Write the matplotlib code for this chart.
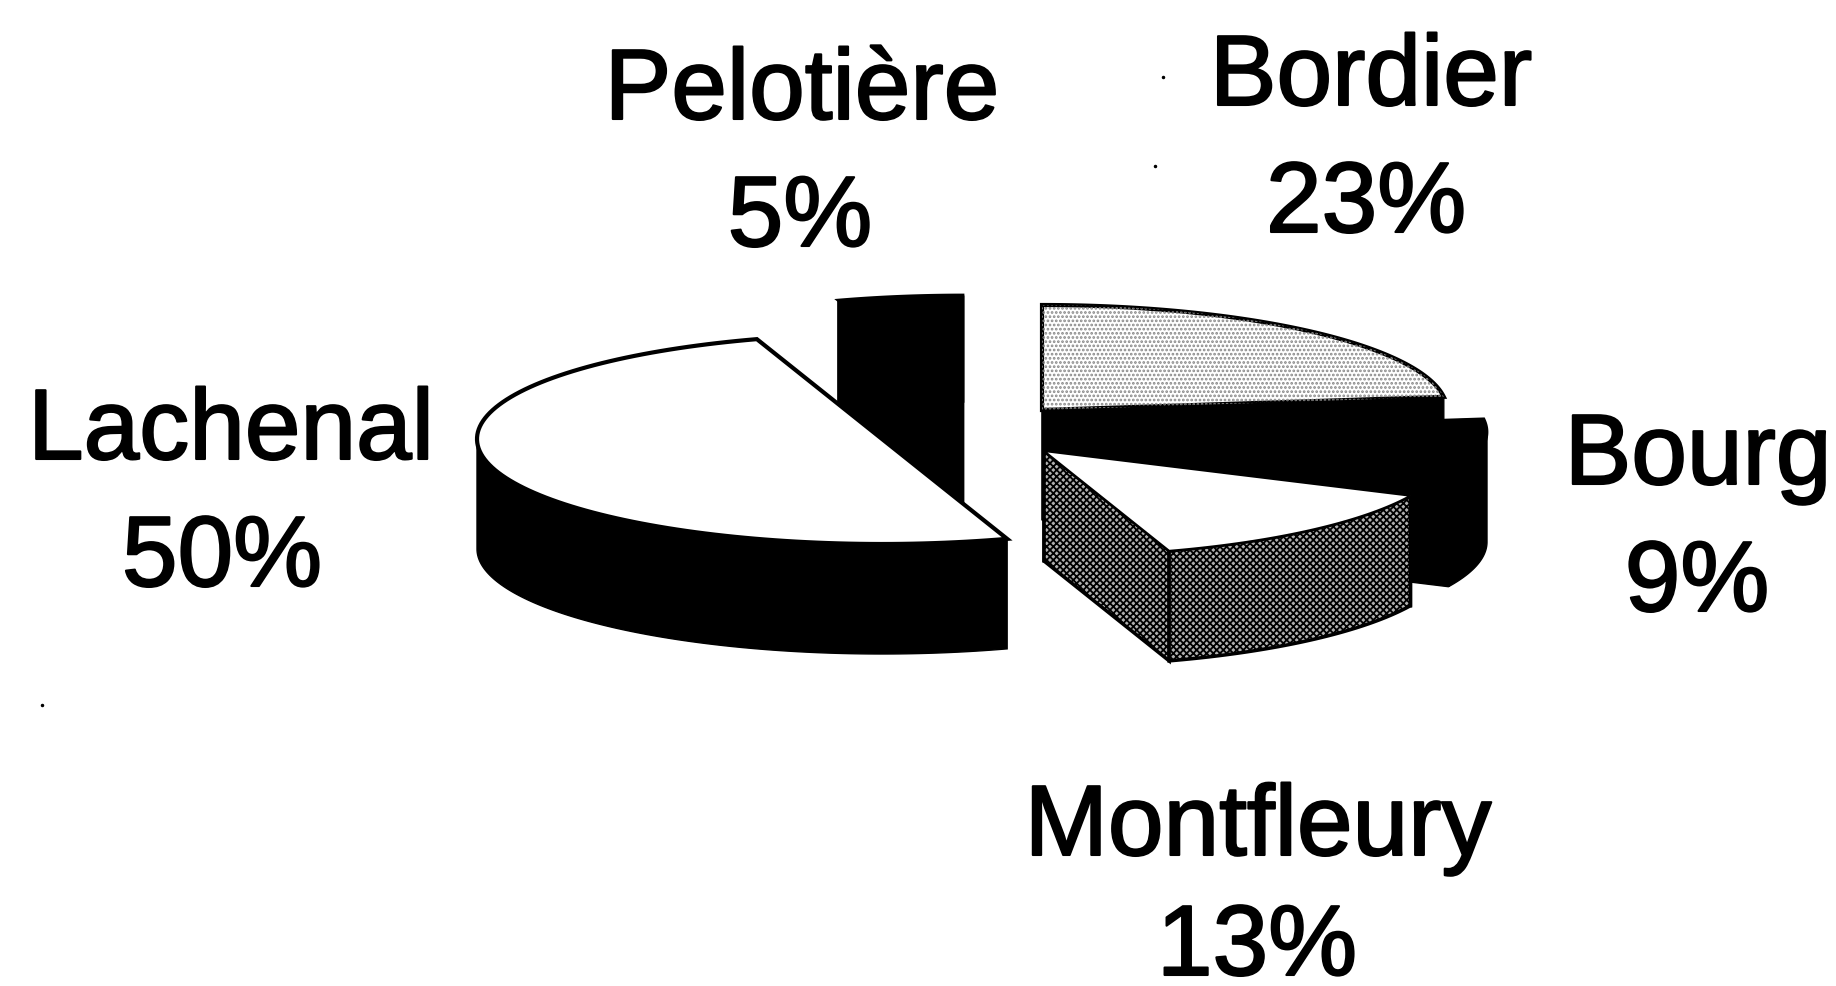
import numpy as np
import matplotlib
matplotlib.use("Agg")
import matplotlib.pyplot as plt
import matplotlib.patheffects as pe
from matplotlib.patches import Polygon

plt.rcParams['font.family'] = ['Liberation Sans', 'DejaVu Sans']
plt.rcParams['hatch.linewidth'] = 1.3

# Data, clockwise from twelve o'clock
labels = ["Bordier", "Bourg", "Montfleury", "Lachenal", "Pelotière"]
shares = [23, 9, 13, 50, 5]

# Layout
centres = {"Bordier": (1042, 410), "Bourg": (1082, 432), "Montfleury": (1044, 451),
           "Lachenal": (882, 439), "Pelotière": (963, 400)}
# name x, name baseline, share x, share baseline
label_pos = {"Bordier": (1371, 105, 1366, 232), "Bourg": (1698, 484, 1697, 611),
             "Montfleury": (1258, 855, 1257, 975), "Lachenal": (231, 459, 222, 586),
             "Pelotière": (802, 119, 800, 246)}
draw_order = ["Pelotière", "Bordier", "Bourg", "Lachenal", "Montfleury"]
RX, RY, DEPTH = 405, 105, 110
speck_x = [1163, 1155, 42]
speck_y = [77, 166, 705]

top_style = {
    "Bordier": dict(facecolor="white", edgecolor="black", linewidth=3),
    "Bourg": dict(facecolor="black", edgecolor="black", linewidth=2),
    "Montfleury": dict(facecolor="white", edgecolor="black", linewidth=1.5),
    "Lachenal": dict(facecolor="white", edgecolor="black", linewidth=3),
    "Pelotière": dict(facecolor="black", edgecolor="black", linewidth=2),
}
wall_style = {
    "Bordier": dict(facecolor="black", edgecolor="black"),
    "Bourg": dict(facecolor="black", edgecolor="black"),
    "Montfleury": dict(facecolor="#b0b0b0", edgecolor="black", hatch="xxxxx", linewidth=2.5),
    "Lachenal": dict(facecolor="black", edgecolor="black"),
    "Pelotière": dict(facecolor="black", edgecolor="black"),
}

fig = plt.figure(figsize=(18.36, 9.86), dpi=100, facecolor="white")
ax = fig.add_axes([0, 0, 1, 1])
ax.set_xlim(0, 1836)
ax.set_ylim(986, 0)
ax.axis("off")

edges = np.deg2rad(np.concatenate([[0], np.cumsum(shares)]) * 3.6)
spans = {n: (edges[i], edges[i + 1]) for i, n in enumerate(labels)}


def rim(name, t0, t1):
    cx, cy = centres[name]
    t = np.linspace(t0, t1, 120)
    return np.column_stack([cx + RX * np.sin(t), cy - RY * np.cos(t)])


for name in draw_order:
    t0, t1 = spans[name]
    cx, cy = centres[name]
    shift = np.array([0, DEPTH])
    apex = np.array([[cx, cy]])
    for t in (t0, t1):
        p = rim(name, t, t)[0]
        quad = np.array([apex[0], p, p + shift, apex[0] + shift])
        if name != "Lachenal":
            ax.add_patch(Polygon(quad, closed=True, **wall_style[name]))
    f0, f1 = max(t0, np.pi / 2), min(t1, 3 * np.pi / 2)
    if f1 > f0:
        front = rim(name, f0, f1)
        ax.add_patch(Polygon(np.vstack([front, (front + shift)[::-1]]), closed=True,
                             **wall_style[name]))
    ax.add_patch(Polygon(np.vstack([apex, rim(name, t0, t1)]), closed=True, **top_style[name]))

# Speckled shading of the Bordier top
t0, t1 = spans["Bordier"]
ax.add_patch(Polygon(np.vstack([[centres["Bordier"]], rim("Bordier", t0, t1)]), closed=True,
                     facecolor="none", edgecolor="#888888", hatch="....", linewidth=0))

stroke = [pe.withStroke(linewidth=1.5, foreground="black")]
for name in labels:
    x1, y1, x2, y2 = label_pos[name]
    share = shares[labels.index(name)]
    ax.text(x1, y1, name, ha="center", va="baseline", fontsize=72, color="black", path_effects=stroke)
    ax.text(x2, y2, f"{share}%", ha="center", va="baseline", fontsize=72, color="black", path_effects=stroke)

ax.plot(speck_x, speck_y, linestyle="none", marker="o", markersize=1.5, color="black")

fig.savefig("out.png", dpi=100, facecolor="white")
